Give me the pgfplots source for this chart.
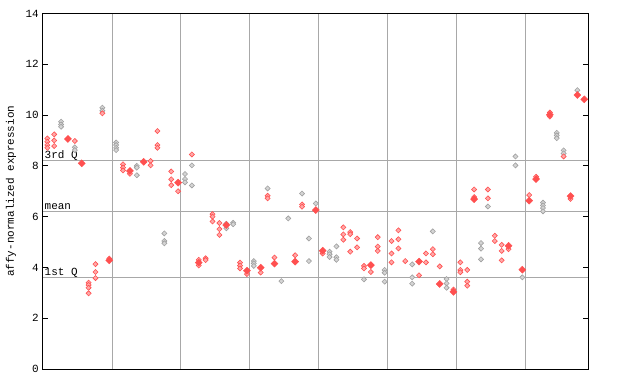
\documentclass[border=0pt]{standalone}
\usepackage{pgfplots}
\pgfplotsset{compat=1.18}
\usepackage{fontspec}
\setmainfont{Liberation Mono}
\definecolor{pr}{HTML}{FF5050}
\definecolor{prl}{HTML}{FFA8A8}
\definecolor{pg}{HTML}{A0A0A0}
\definecolor{pgl}{HTML}{D4D4D4}
\definecolor{gridc}{HTML}{A8A8A8}
\begin{document}
\begin{tikzpicture}
\path (-43bp,-15bp) rectangle (597bp,369bp);
\begin{axis}[
  at={(0,0)}, anchor=south west,
  scale only axis, width=545bp, height=355.5bp,
  xmin=0.375, xmax=79.54, ymin=0, ymax=14,
  axis line style={black, line width=1bp},
  xtick={10.4,20.4,30.4,40.4,50.4,60.4,70.4}, xticklabels={},
  xmajorgrids, grid style={gridc, line width=1bp},
  x tick style={draw=none},
  ytick={0,2,...,14}, ytick pos=both, yticklabel pos=left,
  tick align=inside, major tick length=5bp,
  y tick style={black, line width=1bp},
  /pgf/number format/assume math mode=true,
  font=\fontsize{11}{13}\selectfont,
  yticklabel style={font=\fontsize{11}{13}\selectfont, inner sep=0pt, xshift=-4bp},
  ylabel={affy-normalized expression},
  ylabel style={at={(rel axis cs:0,0.5)}, anchor=center, yshift=32bp, inner sep=0pt, font=\fontsize{11}{13}\selectfont},
]
\addplot[gridc, line width=1bp, no marks] coordinates {(0.375,8.22) (79.54,8.22)};
\addplot[gridc, line width=1bp, no marks] coordinates {(0.375,6.21) (79.54,6.21)};
\addplot[gridc, line width=1bp, no marks] coordinates {(0.375,3.61) (79.54,3.61)};
\addplot[only marks, mark=square*, mark size=1.8bp, mark options={rotate=45, draw=pg, fill=pgl, line width=0.6bp}] coordinates {
(3,9.74)(3,9.63)(3,9.54)
(5,8.73)(5,8.62)
(9,10.29)(9,10.17)
(11,8.92)(11,8.82)(11,8.71)(11,8.62)
(14,8.0)(14,7.93)(14,7.63)
(18,5.34)(18,5.04)(18,4.95)
(21,7.68)(21,7.48)(21,7.35)
(22,8.02)(22,7.23)
(27,5.72)(27,5.54)
(28,5.76)(28,5.7)
(31,4.25)(31,4.16)(31,4.06)
(33,7.11)
(35,3.46)
(36,5.93)
(38,6.91)
(39,5.14)(39,4.25)
(40,6.52)
(42,4.62)(42,4.52)(42,4.41)
(43,4.83)(43,4.4)(43,4.3)
(47,3.53)
(50,3.9)(50,3.79)(50,3.44)
(54,4.12)(54,3.61)(54,3.36)
(57,5.42)
(59,3.54)(59,3.37)(59,3.2)
(64,4.96)(64,4.74)(64,4.32)
(65,6.4)
(69,8.37)(69,8.02)
(70,3.61)
(73,6.55)(73,6.44)(73,6.34)(73,6.21)
(75,9.3)(75,9.2)(75,9.09)
(76,8.61)(76,8.49)
(78,10.98)
};
\addplot[only marks, mark=square*, mark size=1.8bp, mark options={rotate=45, draw=pr, fill=prl, line width=0.6bp}] coordinates {
(1,9.08)(1,8.95)(1,8.82)(1,8.71)
(2,9.24)(2,9.0)(2,8.78)
(5,8.98)
(7,3.4)(7,3.31)(7,3.2)(7,2.98)
(8,4.13)(8,3.82)(8,3.58)
(9,10.07)
(10,4.35)
(12,8.06)(12,7.93)(12,7.82)
(13,7.69)
(16,8.19)(16,8.02)
(17,9.37)(17,8.82)(17,8.71)
(19,7.78)(19,7.47)(19,7.24)
(20,7.0)
(22,8.45)
(23,4.3)(23,4.08)
(24,4.36)(24,4.29)
(25,6.1)(25,6.0)(25,5.81)
(26,5.75)(26,5.51)(26,5.28)
(29,4.19)(29,4.07)(29,3.96)
(30,3.74)
(32,3.8)
(33,6.82)(33,6.72)
(34,4.39)
(37,4.48)
(38,6.48)(38,6.39)
(41,4.55)
(44,5.58)(44,5.3)(44,5.09)
(45,5.39)(45,5.31)(45,4.62)
(46,5.14)(46,4.79)
(47,4.06)(47,3.96)
(48,3.82)
(49,5.19)(49,4.82)(49,4.65)
(51,5.04)(51,4.55)(51,4.2)
(52,5.46)(52,5.11)(52,4.75)
(53,4.25)
(55,3.69)
(56,4.55)(56,4.2)
(57,4.72)(57,4.52)
(58,4.04)
(60,3.13)
(61,4.2)(61,3.9)(61,3.81)
(62,3.9)(62,3.44)(62,3.28)
(63,7.07)(63,6.77)
(65,7.07)(65,6.72)
(66,5.25)(66,5.04)
(67,4.89)(67,4.65)(67,4.28)
(68,4.72)
(71,6.85)
(72,7.57)
(74,10.1)(74,9.94)
(76,8.37)
(77,6.7)
};
\addplot[only marks, mark=square*, mark size=2.5bp, mark options={rotate=45, draw=pr, fill=pr, line width=0.4bp}] coordinates {
(4,9.06)(6,8.1)(10,4.28)(13,7.8)(15,8.16)(20,7.34)(23,4.19)(27,5.67)(30,3.87)(32,3.99)(34,4.15)(37,4.23)(40,6.26)(41,4.66)(48,4.09)(55,4.23)(58,3.35)(60,3.04)(63,6.69)(68,4.85)(70,3.91)(71,6.63)(72,7.48)(74,10.01)(77,6.81)(78,10.79)(79,10.62)
};
\node[anchor=base west, inner sep=0pt, xshift=1.5bp, yshift=1.8bp] at (axis cs:0.375,8.22) {3rd Q};
\node[anchor=base west, inner sep=0pt, xshift=1.5bp, yshift=1.8bp] at (axis cs:0.375,6.21) {mean};
\node[anchor=base west, inner sep=0pt, xshift=1.5bp, yshift=1.8bp] at (axis cs:0.375,3.61) {1st Q};
\end{axis}
\end{tikzpicture}
\end{document}
